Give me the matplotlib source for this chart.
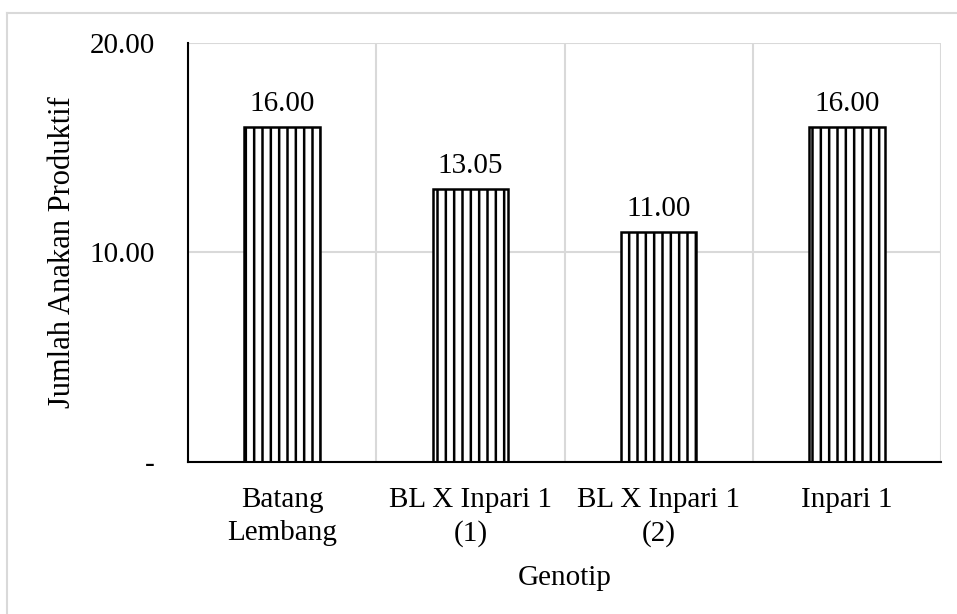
import matplotlib
matplotlib.use("Agg")
import matplotlib.pyplot as plt
from matplotlib.lines import Line2D

categories = ["Batang\nLembang", "BL X Inpari 1\n(1)", "BL X Inpari 1\n(2)", "Inpari 1"]
values = [16.00, 13.05, 11.00, 16.00]
yticks = [0, 10, 20]
ytick_labels = ["-", "10.00", "20.00"]

plt.rcParams["font.family"] = ["Liberation Serif", "DejaVu Serif"]
plt.rcParams["hatch.linewidth"] = 1.8
plt.rcParams["hatch.color"] = "black"

FS = 21
W, H = 957, 614
fig = plt.figure(figsize=(W / 100, H / 100), dpi=100)
ax = fig.add_axes([188 / W, 1 - 462 / H, (941 - 188) / W, (462 - 43) / H])

x = list(range(len(categories)))
bars = ax.bar(x, values, width=0.4, color="white", edgecolor="black",
              linewidth=1.8, hatch="||", zorder=3)

for xi, v in zip(x, values):
    ax.annotate(f"{v:.2f}", (xi, v), xytext=(0, 7), textcoords="offset points",
                ha="center", va="bottom", fontsize=FS)

ax.set_xlim(-0.5, len(categories) - 0.5)
ax.set_ylim(0, 20)
ax.set_yticks(yticks)
ax.set_yticklabels(ytick_labels, fontsize=FS)
ax.set_xticks(x)
ax.set_xticklabels(categories, fontsize=FS, linespacing=1.35)
ax.set_xticks([i - 0.5 for i in range(len(categories) + 1)], minor=True)

ax.tick_params(axis="y", length=0, pad=24)
ax.tick_params(axis="x", which="both", length=0, pad=18)

ax.grid(axis="y", color="#d9d9d9", linewidth=1.5, zorder=0)
ax.grid(axis="x", which="minor", color="#d9d9d9", linewidth=1.5, zorder=0)
ax.grid(axis="x", which="major", visible=False)

for side in ["top", "right"]:
    ax.spines[side].set_visible(False)
for side in ["left", "bottom"]:
    ax.spines[side].set_color("black")
    ax.spines[side].set_linewidth(1.5)
    ax.spines[side].set_zorder(4)

ax.set_xlabel("Genotip", fontsize=FS, labelpad=13)
ax.set_ylabel("Jumlah Anakan Produktif", fontsize=22, labelpad=9)

# light frame around the chart area
fx, fy = 7 / W, 1 - 13 / H
fig.add_artist(Line2D([fx, 1], [fy, fy], transform=fig.transFigure,
                      color="#d9d9d9", linewidth=1.5))
fig.add_artist(Line2D([fx, fx], [0, fy], transform=fig.transFigure,
                      color="#d9d9d9", linewidth=1.5))

fig.savefig("out.png", dpi=100, facecolor="white")
